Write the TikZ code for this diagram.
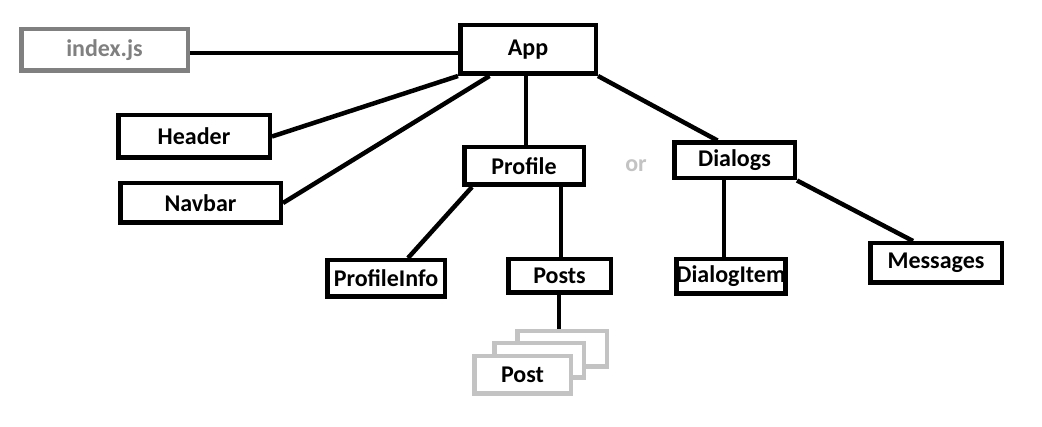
\documentclass[tikz,border=0pt]{standalone}
\usepackage{fontspec}
\setmainfont{Carlito}
\usetikzlibrary{calc}
\definecolor{boxgrey}{HTML}{808080}
\definecolor{lightgrey}{HTML}{C3C3C3}
\begin{document}
\begin{tikzpicture}[x=1pt,y=-1pt,
  box/.style={draw=black,line width=4.5pt,fill=white,inner sep=0pt,
    font=\fontsize{24}{28}\selectfont\bfseries,text=black},
  gbox/.style={box,draw=boxgrey,text=boxgrey},
  pbox/.style={box,draw=lightgrey},
  link/.style={line width=4.5pt,draw=black}]
\useasboundingbox (0,0) rectangle (1042,427);
\fill[white] (0,0) rectangle (1042,427);

\node[gbox,minimum width=166.5pt,minimum height=41.5pt] (idx) at (104.5,50) {index.js};
\node[box,minimum width=135.5pt,minimum height=48.5pt] (app) at (528,49.5) {App};
\node[box,minimum width=151.5pt,minimum height=42.5pt] (header) at (194,136.5) {Header};
\node[box,minimum width=160.5pt,minimum height=39.5pt] (navbar) at (200.5,203) {Navbar};
\node[box,minimum width=119.5pt,minimum height=37.5pt] (profile) at (524,166) {Profile};
\node[box,minimum width=120.5pt,minimum height=35.5pt] (dialogs) at (734.5,160.5) {Dialogs};
\node[box,minimum width=117.5pt,minimum height=36.5pt] (pinfo) at (386,278.5) {ProfileInfo};
\node[box,minimum width=102.5pt,minimum height=33.5pt] (posts) at (559.5,276) {Posts};
\node[box,minimum width=103.5pt,minimum height=34.5pt] (ditem) at (731,276.5) {DialogItem};
\node[box,minimum width=131.5pt,minimum height=39.5pt] (msgs) at (936,263) {Messages};

\node[pbox,minimum width=89.5pt,minimum height=35.5pt] (postc) at (562,349) {};
\node[pbox,minimum width=89.5pt,minimum height=34.5pt] (postb) at (539,360.5) {};
\node[pbox,minimum width=96.5pt,minimum height=37.5pt] (posta) at (522.5,375) {Post};

\node[font=\fontsize{24}{28}\selectfont\bfseries,text=lightgrey] (or) at (636,166) {or};

\draw[link] ([yshift=-3pt]idx.east) -- ([yshift=-3pt]idx.east -| app.west);
\draw[link] (header.east) -- (app.south west);
\draw[link] (navbar.east) -- ($(app.south west)!0.225!(app.south east)$);
\draw[link] ([xshift=-2pt]app.south) -- ([xshift=2pt]profile.north);
\draw[link] (app.south east) -- ([xshift=-17pt]dialogs.north);
\draw[link] ([xshift=10pt]profile.south west) -- ([xshift=22pt]pinfo.north);
\draw[link] ([xshift=37pt]profile.south) -- ([xshift=1.5pt]posts.north);
\draw[link] ([xshift=-0.5pt]posts.south) -- ([xshift=-3pt]postc.north);
\draw[link] ([xshift=-10.5pt]dialogs.south) -- ([xshift=-7pt]ditem.north);
\draw[link] (dialogs.south east) -- ([xshift=-23pt]msgs.north);
\end{tikzpicture}
\end{document}
